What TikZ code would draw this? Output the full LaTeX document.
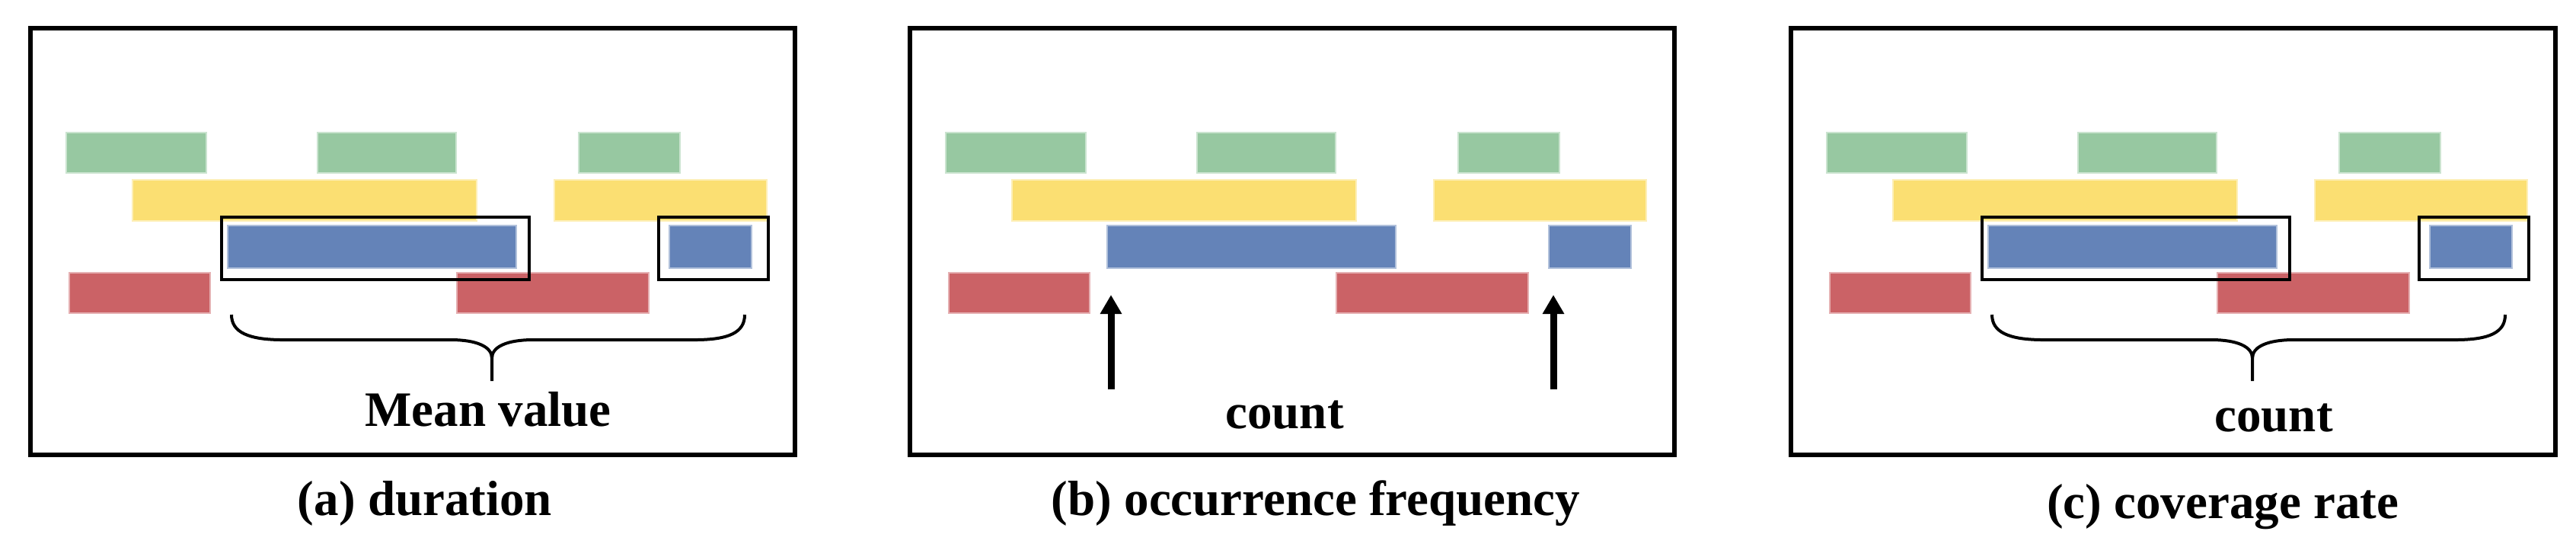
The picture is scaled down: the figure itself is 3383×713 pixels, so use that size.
\documentclass[tikz,border=0pt]{standalone}
\usepackage{fontspec}
\setmainfont{Liberation Serif}
\usepackage{tikz}
\usetikzlibrary{arrows.meta}
\definecolor{gbar}{RGB}{151,200,161}
\definecolor{ybar}{RGB}{251,223,114}
\definecolor{bbar}{RGB}{100,131,184}
\definecolor{rbar}{RGB}{203,98,102}

\begin{document}
\begin{tikzpicture}[x=0.2pt, y=-0.2pt]
\tikzstyle{every node}+=[inner sep=0pt, font=\fontsize{13}{15}\selectfont\bfseries]
\tikzstyle{frame}=[draw=black, line width=1.1pt]
\tikzstyle{sel}=[draw=black, line width=0.9pt]
\tikzstyle{brace}=[draw=black, line width=0.8pt]
\useasboundingbox (0,0) rectangle (3383,713);
% the same bars in all three panels
\foreach \dx in {0,1155,2312} {
\begin{scope}[shift={(\dx,0)}]
\draw [frame] (40,37) rectangle (1044,597);
\draw [fill=gbar, draw=gbar!50!white, line width=0.4pt] (87,174) rectangle (271,227);
\draw [fill=gbar, draw=gbar!50!white, line width=0.4pt] (417,174) rectangle (599,227);
\draw [fill=gbar, draw=gbar!50!white, line width=0.4pt] (760,174) rectangle (893,227);
\draw [fill=ybar, draw=ybar!50!white, line width=0.4pt] (174,236) rectangle (626,290);
\draw [fill=ybar, draw=ybar!50!white, line width=0.4pt] (728,236) rectangle (1007,290);
\draw [fill=bbar, draw=bbar!50!white, line width=0.4pt] (299,296) rectangle (678,352);
\draw [fill=bbar, draw=bbar!50!white, line width=0.4pt] (879,296) rectangle (987,352);
\draw [fill=rbar, draw=rbar!50!white, line width=0.4pt] (91,358) rectangle (276,411);
\draw [fill=rbar, draw=rbar!50!white, line width=0.4pt] (600,358) rectangle (852,411);
\end{scope}
}
% (a) duration
\draw [sel] (291,285) rectangle (695,367);
\draw [sel] (865,285) rectangle (1009,367);
\draw [brace] (304,413) .. controls (304,436) and (326,446) .. (372,446) -- (592,446) .. controls (626,446) and (646,455) .. (646,470) -- (646,500);
\draw [brace] (646,470) .. controls (646,455) and (666,446) .. (700,446) -- (912,446) .. controls (958,446) and (978,436) .. (978,413);
\node [anchor=base] (meanA) at (641,559) {Mean value};
\node [anchor=base] (capA) at (558,676) {(a) duration};
% (b) occurrence frequency
\coordinate (upL) at (1459,387);
\coordinate (lowL) at (1459,511);
\coordinate (upR) at (2040,387);
\coordinate (lowR) at (2040,511);
\draw [line width=1.8pt, -{Triangle[width=5.4pt, length=5pt]}] (lowL) -- (upL);
\draw [line width=1.8pt, -{Triangle[width=5.4pt, length=5pt]}] (lowR) -- (upR);
\node [anchor=base] (countB) at (1687,562) {count};
\node [anchor=base] (capB) at (1728,676) {(b) occurrence frequency};
% (c) coverage rate
\draw [sel] (2603,285) rectangle (3007,367);
\draw [sel] (3177,285) rectangle (3321,367);
\draw [brace] (2616,413) .. controls (2616,436) and (2638,446) .. (2684,446) -- (2904,446) .. controls (2938,446) and (2958,455) .. (2958,470) -- (2958,500);
\draw [brace] (2958,470) .. controls (2958,455) and (2978,446) .. (3012,446) -- (3224,446) .. controls (3270,446) and (3290,436) .. (3290,413);
\node [anchor=base] (countC) at (2986,566) {count};
\node [anchor=base] (capC) at (2919,680) {(c) coverage rate};
\end{tikzpicture}
\end{document}
